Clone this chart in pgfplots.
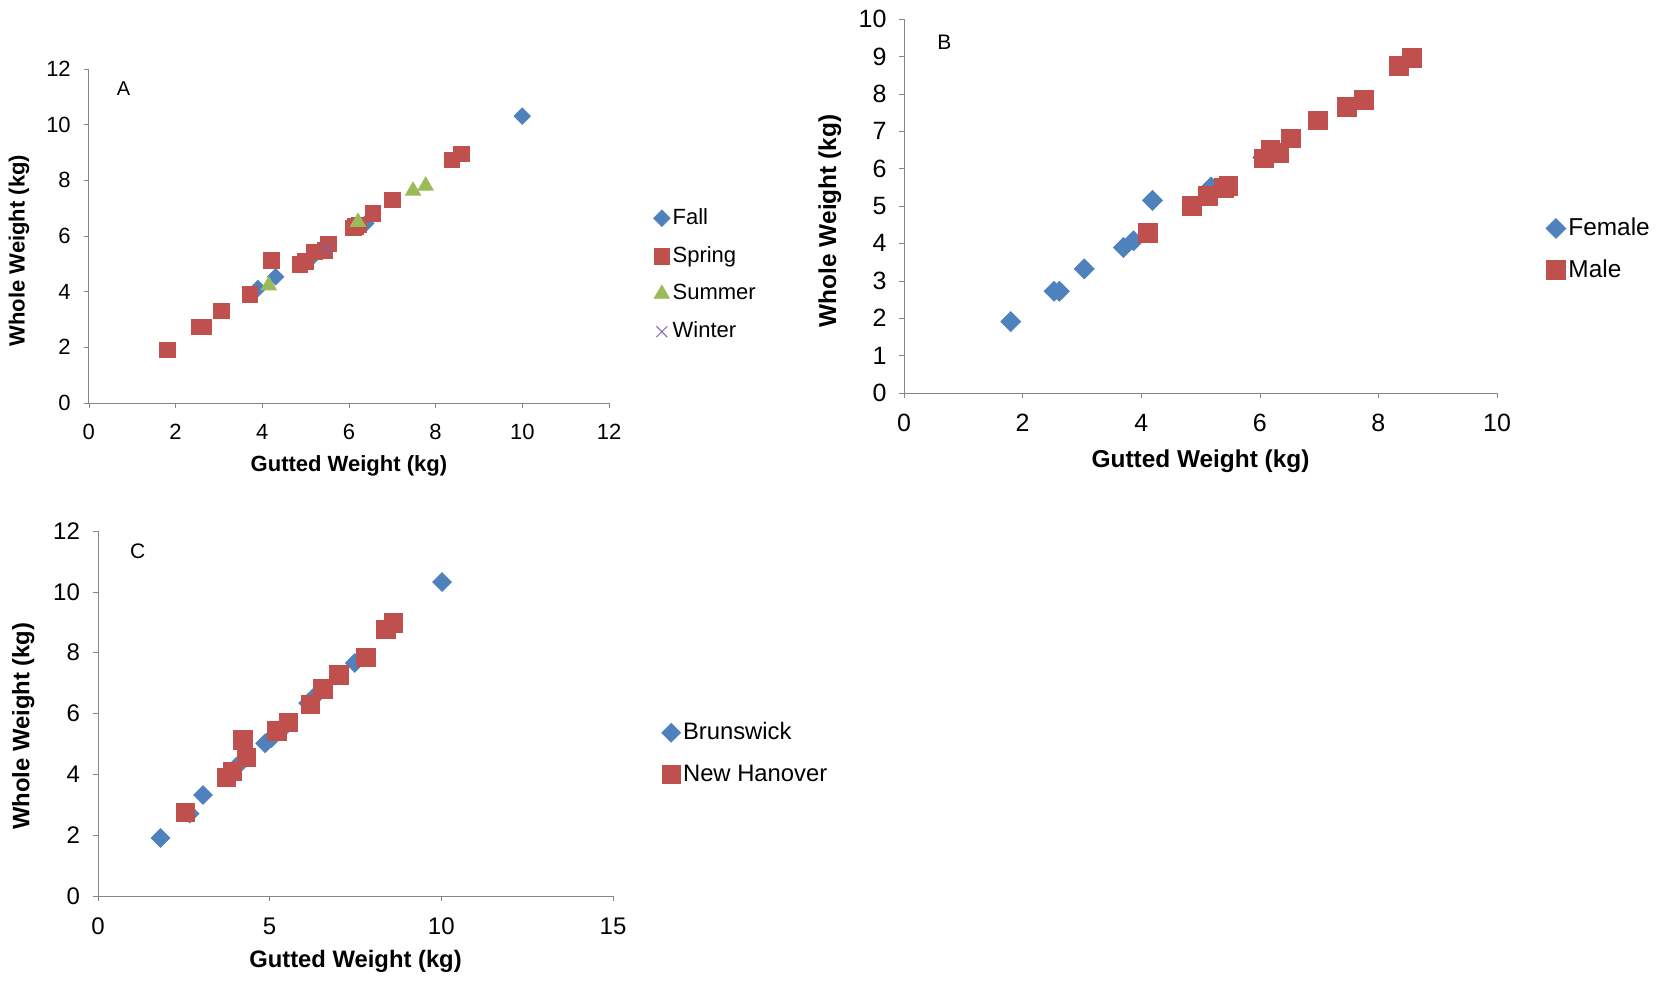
\documentclass[border=0pt]{standalone}
\usepackage{pgfplots}
\pgfplotsset{compat=1.18}
\usepackage{fontspec}
\setmainfont{Liberation Sans}
\definecolor{cblue}{HTML}{4F81BD}
\definecolor{cred}{HTML}{C0504D}
\definecolor{cgreen}{HTML}{9BBB59}
\definecolor{cpurple}{HTML}{8064A2}
\definecolor{axgray}{HTML}{868686}
\pgfplotsset{
  exstyle/.style={
    scale only axis,
    axis lines=left,
    axis line style={-,draw=axgray},
    tick align=outside,
    major tick length=2.5pt,
    tick style={draw=axgray},
    /pgf/number format/assume math mode=true,
    legend cell align=left,
    legend image code/.code={\draw[##1] plot coordinates {(0pt,0pt)};},
    clip=false,
  },
  diam/.style={only marks, mark=square*, color=cblue, mark options={rotate=45, fill=cblue, draw=cblue}},
  sq/.style={only marks, mark=square*, color=cred, mark options={fill=cred, draw=cred}},
}
\begin{document}
\begin{tikzpicture}
\useasboundingbox (0,0) rectangle (829pt,490.5pt);
% ---------------- Panel A ----------------
\begin{axis}[exstyle, at={(44.4pt,289pt)}, anchor=south west, width=260.1pt, height=167.1pt,
  xmin=0,xmax=12,ymin=0,ymax=12, xtick={0,2,...,12}, ytick={0,2,...,12},
  ticklabel style={font=\fontsize{11}{13}\selectfont},
  xticklabel style={yshift=-4.5pt}, yticklabel style={xshift=-3pt},
  xlabel={Gutted Weight (kg)}, ylabel={Whole Weight (kg)},
  label style={font=\fontsize{11}{13}\selectfont\bfseries},
  xlabel style={at={(axis description cs:0.5,-0.187)},anchor=center},
  ylabel style={at={(axis description cs:-0.134,0.456)},anchor=center},
  legend style={at={(axis description cs:1.085,0.383)},anchor=west,draw=none,fill=none,inner sep=0pt,row sep=6.3pt,
    font=\fontsize{11}{13}\selectfont, nodes={inner sep=1.3pt, text height=8pt, text depth=2pt}},
]
\addplot[diam, mark size=2.9pt] coordinates {(3.90,4.11) (4.31,4.53) (5.16,5.25) (6.39,6.45) (10.0,10.3)};
\addlegendentry{Fall}
\addplot[sq, mark size=3.9pt] coordinates {(1.82,1.91) (2.55,2.73) (2.65,2.73) (3.06,3.30) (3.72,3.89) (4.21,5.13) (4.87,4.98) (4.99,5.09) (5.20,5.43) (5.45,5.49) (5.53,5.71) (6.10,6.29) (6.15,6.35) (6.23,6.39) (6.55,6.81) (7.01,7.29) (8.38,8.73) (8.59,8.95)};
\addlegendentry{Spring}
\addplot[only marks, mark=triangle*, color=cgreen, mark options={fill=cgreen,draw=cgreen}, mark size=4.4pt] coordinates {(4.15,4.22) (6.21,6.50) (7.48,7.62) (7.77,7.80)};
\addlegendentry{Summer}
\addplot[only marks, mark=x, color=cpurple, mark size=3.8pt, mark options={line width=0.5pt}] coordinates {(5.50,5.55)};
\addlegendentry{Winter}
\node[font=\fontsize{10}{12}\selectfont] at (axis description cs:0.067,0.94) {A};
\end{axis}
% ---------------- Panel B ----------------
\begin{axis}[exstyle, at={(452pt,294pt)}, anchor=south west, width=296.5pt, height=187pt,
  xmin=0,xmax=10,ymin=0,ymax=10, xtick={0,2,...,10}, ytick={0,1,...,10},
  ticklabel style={font=\fontsize{12.5}{14}\selectfont},
  xticklabel style={yshift=-4.5pt}, yticklabel style={xshift=-2.7pt},
  xlabel={Gutted Weight (kg)}, ylabel={Whole Weight (kg)},
  label style={font=\fontsize{12.2}{14}\selectfont\bfseries},
  xlabel style={at={(axis description cs:0.5,-0.182)},anchor=center},
  ylabel style={at={(axis description cs:-0.125,0.46)},anchor=center},
  legend style={at={(axis description cs:1.082,0.384)},anchor=west,draw=none,fill=none,inner sep=0pt,row sep=7.3pt,
    font=\fontsize{12.2}{14}\selectfont, nodes={inner sep=1.3pt, text height=9pt, text depth=2pt}},
]
\addplot[diam, mark size=3.5pt] coordinates {(1.80,1.91) (2.53,2.72) (2.62,2.72) (3.04,3.32) (3.70,3.89) (3.87,4.07) (4.19,5.15) (5.18,5.51) (6.05,6.30)};
\addlegendentry{Female}
\addplot[sq, mark size=4.7pt] coordinates {(4.11,4.29) (4.85,5.00) (5.12,5.26) (5.40,5.48) (5.47,5.53) (6.07,6.27) (6.18,6.50) (6.32,6.42) (6.52,6.81) (6.98,7.29) (7.47,7.66) (7.75,7.84) (8.35,8.74) (8.57,8.97)};
\addlegendentry{Male}
\node[font=\fontsize{10.5}{12}\selectfont] at (axis description cs:0.068,0.938) {B};
\end{axis}
% ---------------- Panel C ----------------
\begin{axis}[exstyle, at={(49pt,42.5pt)}, anchor=south west, width=257.5pt, height=182.5pt,
  xmin=0,xmax=15,ymin=0,ymax=12, xtick={0,5,10,15}, ytick={0,2,...,12},
  ticklabel style={font=\fontsize{12}{14}\selectfont},
  xticklabel style={yshift=-5pt}, yticklabel style={xshift=-3pt},
  xlabel={Gutted Weight (kg)}, ylabel={Whole Weight (kg)},
  label style={font=\fontsize{11.9}{14}\selectfont\bfseries},
  xlabel style={at={(axis description cs:0.5,-0.18)},anchor=center},
  ylabel style={at={(axis description cs:-0.145,0.465)},anchor=center},
  legend style={at={(axis description cs:1.094,0.39)},anchor=west,draw=none,fill=none,inner sep=0pt,row sep=7.3pt,
    font=\fontsize{11.9}{14}\selectfont, nodes={inner sep=1.3pt, text height=9pt, text depth=2pt}},
]
\addplot[diam, mark size=3.3pt] coordinates {(1.82,1.91) (2.67,2.71) (3.06,3.32) (4.03,4.25) (4.87,5.02) (5.05,5.19) (5.39,5.52) (6.12,6.34) (6.31,6.56) (7.48,7.66) (10.02,10.32)};
\addlegendentry{Brunswick}
\addplot[sq, mark size=4.6pt] coordinates {(2.54,2.74) (3.74,3.89) (3.91,4.09) (4.32,4.55) (4.22,5.13) (5.21,5.43) (5.54,5.70) (6.18,6.30) (6.55,6.81) (7.02,7.27) (7.80,7.85) (8.38,8.76) (8.61,8.98)};
\addlegendentry{New Hanover}
\node[font=\fontsize{10.5}{12}\selectfont] at (axis description cs:0.077,0.945) {C};
\end{axis}
\end{tikzpicture}
\end{document}
